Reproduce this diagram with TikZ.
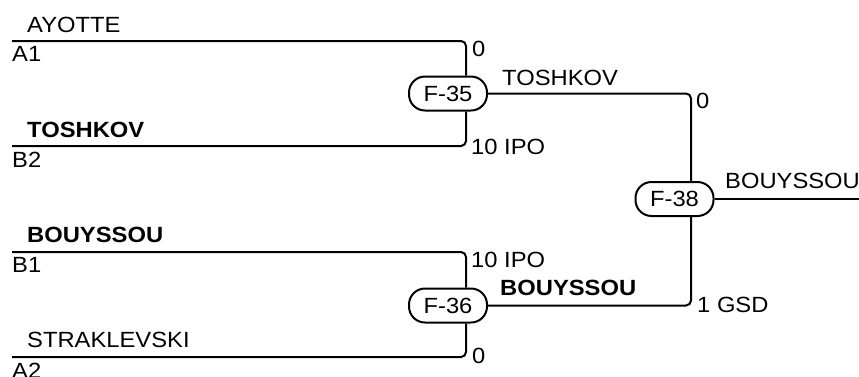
\documentclass[tikz,border=0pt]{standalone}
\usepackage{fontspec}
\setmainfont{Liberation Sans}[FakeStretch=1.08]
\begin{document}
\begin{tikzpicture}[x=1pt,y=-1pt,
  wire/.style={line width=2pt,rounded corners=5pt},
  match/.style={draw,line width=2pt,rounded corners=16pt,minimum width=78pt,minimum height=34pt,inner sep=0pt,font=\fontsize{22}{26}\selectfont},
  lbl/.style={anchor=base west,inner sep=0pt,font=\fontsize{22}{26}\selectfont},
  blbl/.style={lbl,font=\fontsize{22}{26}\selectfont\bfseries}]
\useasboundingbox (0,0) rectangle (859,376);
\node[match] (f35) at (448,93.5) {F-35};
\node[match] (f36) at (448,305.5) {F-36};
\node[match] (f38) at (674.5,199) {F-38};
\coordinate (a1) at (12,41);
\coordinate (b2) at (12,146);
\coordinate (b1) at (12,252);
\coordinate (a2) at (12,357);
\coordinate (v35) at (466,0);
\coordinate (v38) at (691,0);
\coordinate (out) at (859,199);
\draw[wire] (a1) -| (f35.north -| v35);
\draw[wire] (b2) -| (f35.south -| v35);
\draw[wire] (b1) -| (f36.north -| v35);
\draw[wire] (a2) -| (f36.south -| v35);
\draw[wire] (f35.east) -| (f38.north -| v38);
\draw[wire] (f36.east) -| (f38.south -| v38);
\draw[wire] (f38.east) -- (out);
\node[lbl] (t1) at (27,32) {AYOTTE};
\node[lbl] (t2) at (12,61) {A1};
\node[blbl] (t3) at (27,137) {TOSHKOV};
\node[lbl] (t4) at (12,167) {B2};
\node[blbl] (t5) at (27,242) {BOUYSSOU};
\node[lbl] (t6) at (12,272) {B1};
\node[lbl] (t7) at (27,347) {STRAKLEVSKI};
\node[lbl] (t8) at (12,378) {A2};
\node[lbl] (s1) at (472,56) {0};
\node[lbl] (s2) at (471,154) {10 IPO};
\node[lbl] (s3) at (471,267) {10 IPO};
\node[lbl] (s4) at (472,363) {0};
\node[lbl] (w1) at (502,85) {TOSHKOV};
\node[blbl] (w2) at (500,295) {BOUYSSOU};
\node[lbl] (s5) at (696,108) {0};
\node[lbl] (s6) at (697,312) {1 GSD};
\node[lbl] (w3) at (725,188) {BOUYSSOU};
\end{tikzpicture}
\end{document}
